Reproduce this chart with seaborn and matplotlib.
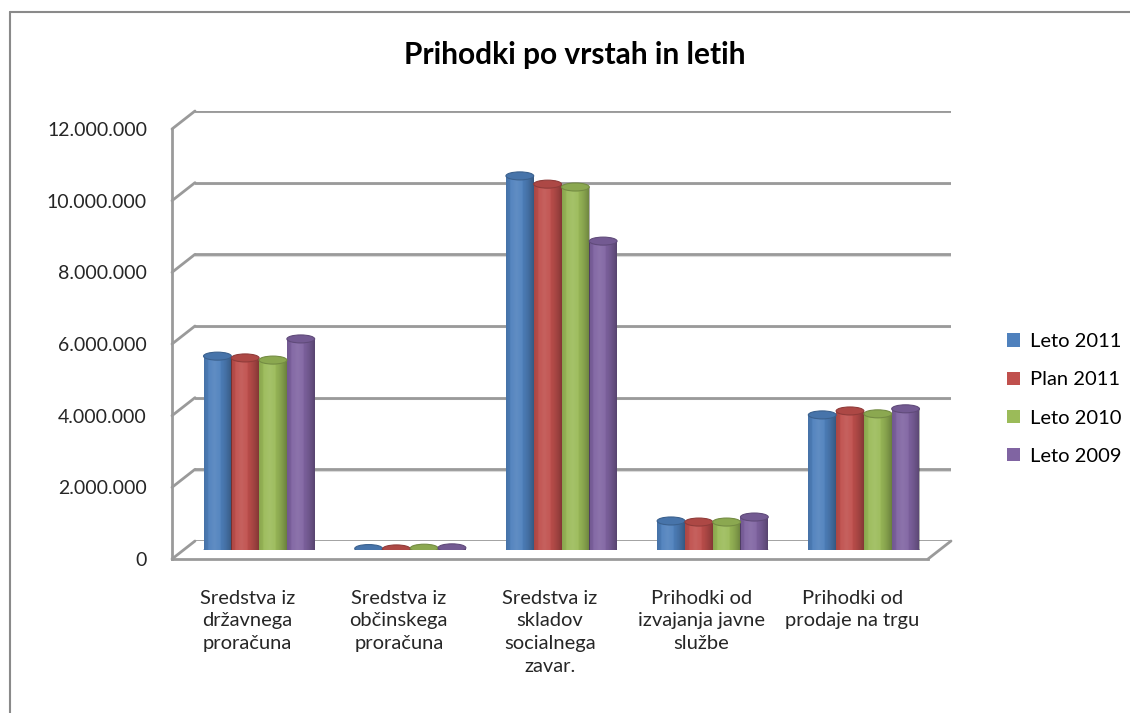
import numpy as np
import pandas as pd
import matplotlib
matplotlib.use("Agg")
import matplotlib.pyplot as plt
import seaborn as sns
from matplotlib.patches import Ellipse, Patch, ConnectionPatch
from matplotlib.lines import Line2D
from matplotlib.ticker import FuncFormatter, FixedLocator
from matplotlib.colors import to_rgb

# podatki
kategorije = [
    "Sredstva iz\ndržavnega\nproračuna",
    "Sredstva iz\nobčinskega\nproračuna",
    "Sredstva iz\nskladov\nsocialnega\nzavar.",
    "Prihodki od\nizvajanja javne\nslužbe",
    "Prihodki od\nprodaje na trgu",
]
serije = ["Leto 2011", "Plan 2011", "Leto 2010", "Leto 2009"]
leto_2011 = [5410000, 40000, 10440000, 810000, 3770000]
plan_2011 = [5360000, 30000, 10210000, 780000, 3880000]
leto_2010 = [5300000, 50000, 10130000, 780000, 3800000]
leto_2009 = [5890000, 60000, 8620000, 920000, 3940000]
barve = ["#4F81BD", "#C0504D", "#9BBB59", "#8064A2"]
y_ticks = [0, 2000000, 4000000, 6000000, 8000000, 10000000, 12000000]

df = pd.DataFrame({"kategorija": kategorije, "Leto 2011": leto_2011, "Plan 2011": plan_2011,
                   "Leto 2010": leto_2010, "Leto 2009": leto_2009})
df = df.melt(id_vars="kategorija", var_name="serija", value_name="znesek")

sns.set_style("white")
plt.rcParams["font.family"] = ["Lato", "DejaVu Sans"]
plt.rcParams["text.color"] = "black"

W, H = 1130, 713
fig = plt.figure(figsize=(W / 100, H / 100), dpi=100, facecolor="white")

# front plane geometry in pixels
x0, x1 = 172, 928
y0, y1 = 559, 129
grid_col = "#9A9A9A"


def axes_at(dx, dy):
    return fig.add_axes([(x0 + dx) / W, (H - y0 + dy) / H, (x1 - x0) / W, (y0 - y1) / H])


ax_back = axes_at(23, 18)
ax = axes_at(0, 0)
ax_bar = axes_at(11.5, 9)
for a in (ax_back, ax, ax_bar):
    a.set_facecolor("none")
    a.set_xlim(-0.5, 4.5)
    a.set_ylim(0, 12000000)
ax_back.set_zorder(0)
ax.set_zorder(1)
ax_bar.set_zorder(2)

# back wall gridlines
for v in y_ticks:
    ax_back.axhline(v, color=grid_col, lw=2, zorder=1)
    ax_back.axhline(v - 40000, color="#DADADA", lw=1.5, zorder=0)
    con = ConnectionPatch(xyA=(-0.5, v), coordsA=ax.transData, xyB=(-0.5, v),
                          coordsB=ax_back.transData, color=grid_col, lw=2)
    fig.add_artist(con)
fig.add_artist(ConnectionPatch(xyA=(4.5, 0), coordsA=ax.transData, xyB=(4.5, 0),
                               coordsB=ax_back.transData, color=grid_col, lw=2))
ax_back.axis("off")

# front axis
for s in ["top", "right"]:
    ax.spines[s].set_visible(False)
for s in ["left", "bottom"]:
    ax.spines[s].set_color(grid_col)
    ax.spines[s].set_linewidth(2)
ax.yaxis.set_major_locator(FixedLocator(y_ticks))
ax.yaxis.set_major_formatter(FuncFormatter(lambda v, p: f"{v:,.0f}".replace(",", ".")))
ax.tick_params(axis="y", length=6, width=1.5, color=grid_col, labelsize=14, pad=12)
ax.xaxis.set_major_locator(FixedLocator(np.arange(-0.5, 5, 1)))
ax.xaxis.set_major_formatter(FuncFormatter(lambda v, p: ""))
ax.set_xticks(np.arange(5), kategorije, minor=True)
ax.tick_params(axis="x", which="major", length=6, width=1.5, color=grid_col, direction="out")
ax.tick_params(axis="x", which="minor", length=0, labelsize=14.5, pad=22)
for t in ax.get_xticklabels(minor=True):
    t.set_linespacing(1.42)
    t.set_va("top")

# cylinders
sns.barplot(data=df, x="kategorija", y="znesek", hue="serija", hue_order=serije,
            palette=barve, saturation=1, width=0.735, ax=ax_bar, legend=False,
            edgecolor="none", linewidth=0)
ax_bar.axis("off")

px_per_unit = (y0 - y1) / 12000000
cap_h = 8 / px_per_unit
t = np.linspace(0, 1, 64)
shade = np.clip(1 - np.abs(t - 0.38) / 0.62, 0, 1)
for patch in list(ax_bar.patches):
    col = np.array(to_rgb(patch.get_facecolor()))
    x, w, h = patch.get_x(), patch.get_width(), patch.get_height()
    cx = x + w / 2
    # soft shading across the cylinder
    rgba = np.zeros((1, len(t), 4))
    dark = 0.32 * (1 - shade) ** 2
    light = 0.10 * shade ** 2
    rgba[0, :, :3] = np.where(light[:, None] > dark[:, None], 1.0, 0.0)
    rgba[0, :, 3] = np.maximum(light, dark)
    im = ax_bar.imshow(rgba, extent=(x, x + w, 0, h), aspect="auto", zorder=3,
                       interpolation="bilinear")
    im.set_clip_path(patch)
    patch.set_zorder(2)
    ax_bar.add_patch(Ellipse((cx, 0), w, cap_h, facecolor=col * 0.85, edgecolor="none", zorder=1))
    ax_bar.add_patch(Ellipse((cx, h), w, cap_h, facecolor=col * 0.9,
                             edgecolor=col * 0.75, lw=0.8, zorder=4))
ax_bar.set_xlim(-0.5, 4.5)
ax_bar.set_ylim(0, 12000000)

# title
fig.text(575 / W, 1 - 55 / H, "Prihodki po vrstah in letih", ha="center", va="center",
         fontsize=21.5, fontweight="bold")

# legend
handles = [Patch(facecolor=c, edgecolor="none") for c in barve]
fig.legend(handles, serije, loc="center left", bbox_to_anchor=(1003 / W, 1 - 399 / H),
           frameon=False, handlelength=0.65, handleheight=0.65, labelspacing=1.05,
           handletextpad=0.5, borderpad=0.2, borderaxespad=0, fontsize=14.5)

# chart border
fig.add_artist(Line2D([10 / W, 10 / W], [1 - 12 / H, 0], transform=fig.transFigure,
                      color="#8A8A8A", lw=1.5))
fig.add_artist(Line2D([10 / W, 1], [1 - 12 / H, 1 - 12 / H], transform=fig.transFigure,
                      color="#8A8A8A", lw=1.5))

fig.savefig("out.png", dpi=100, facecolor="white")
